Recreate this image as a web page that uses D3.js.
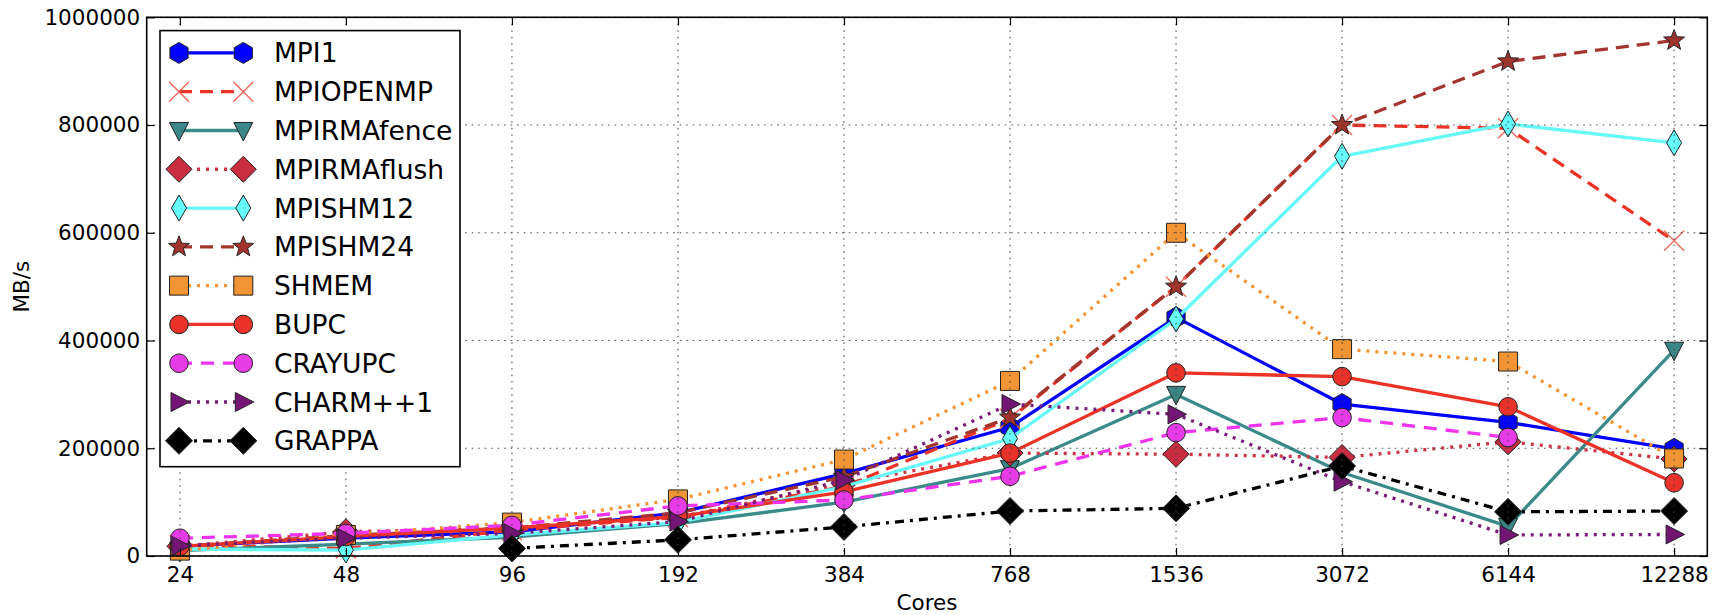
<!DOCTYPE html>
<html>
<head>
<meta charset="utf-8">
<script src="https://cdn.jsdelivr.net/npm/d3@7"></script>
<style>
  html, body { margin: 0; padding: 0; background: #fff; }
  svg { display: block; font-family: "DejaVu Sans", sans-serif; }
</style>
</head>
<body>
<svg id="chart" width="1729" height="615"></svg>
<script>
// Bandwidth (MB/s) per core count for each runtime
const cores = ["24", "48", "96", "192", "384", "768", "1536", "3072", "6144", "12288"];
const yTicks = [0, 200000, 400000, 600000, 800000, 1000000];

const mpi1      = [18000, 33000, 45000, 80000, 153000, 239000, 443000, 282000, 248000, 199000];
const mpiOpenMP = [20000, 14000, 48000, 72000, 129000, 255000, 500000, 800000, 794000, 585000];
const rmaFence  = [10000, 22000, 35000, 60000, 100000, 162000, 300000, 155000, 55000, 382000];
const rmaFlush  = [18000, 45000, 52000, 72000, 135000, 191000, 189000, 183000, 212000, 180000];
const shm12     = [13000, 11000, 39000, 62000, 129000, 218000, 440000, 742000, 802000, 767000];
const shm24     = [18000, 38000, 52000, 80000, 147000, 257000, 500000, 800000, 918000, 957000];
const shmem     = [10000, 39000, 62000, 105000, 179000, 325000, 600000, 384000, 361000, 181000];
const bupc      = [18000, 36000, 52000, 73000, 119000, 191000, 340000, 333000, 277000, 136000];
const crayUPC   = [33000, 42000, 57000, 93000, 104000, 148000, 229000, 257000, 220000, null];
const charm     = [18600, 33000, 42000, 64000, 141000, 282000, 263000, 138000, 39000, 40000];
const grappa    = [null, null, 14000, 30000, 54000, 83500, 88500, 167000, 82000, 83500];

const seriesNames = ["MPI1", "MPIOPENMP", "MPIRMAfence", "MPIRMAflush", "MPISHM12",
  "MPISHM24", "SHMEM", "BUPC", "CRAYUPC", "CHARM++1", "GRAPPA"];
const seriesValues = [mpi1, mpiOpenMP, rmaFence, rmaFlush, shm12, shm24, shmem, bupc, crayUPC, charm, grappa];

// Styling per series: line colour, dash pattern, marker shape and fill
const styles = [
  { color: "#0000ff", dash: null,        marker: "hexagon",  fill: "#0000ff" },
  { color: "#ec3426", dash: "13,8",      marker: "x",        fill: "#f2685c" },
  { color: "#3b8a8a", dash: null,        marker: "triDown",  fill: "#3b8686" },
  { color: "#cc3344", dash: "3,6",       marker: "diamond",  fill: "#c92e40" },
  { color: "#66f7f7", dash: null,        marker: "thinDiamond", fill: "#66ffff" },
  { color: "#a3352f", dash: "13,8",      marker: "star",     fill: "#a2322c" },
  { color: "#f59330", dash: "3,6",       marker: "square",   fill: "#f19434" },
  { color: "#ea3326", dash: null,        marker: "circle",   fill: "#e8322a" },
  { color: "#ee33ee", dash: "13,9",      marker: "circle",   fill: "#e83be8" },
  { color: "#7a1b7a", dash: "3,6",       marker: "triRight", fill: "#741474" },
  { color: "#000000", dash: "9,6,3,6",   marker: "bigDiamond", fill: "#000000" }
];

const svg = d3.select("#chart");
const plotLeft = 146.7, plotRight = 1707.3, plotTop = 17.3, plotBottom = 556;
const tickFont = 21.5, labelFont = 21.5, legendFont = 26.5;

const x = d3.scalePoint().domain(cores).range([plotLeft, plotRight]).padding(0.2);
const y = d3.scaleLinear().domain([0, 1000000]).range([plotBottom, plotTop]);

function markerPath(shape) {
  const p = d3.path();
  if (shape === "hexagon") {
    const r = 10.5;
    for (let i = 0; i < 6; i++) {
      const a = -Math.PI / 2 + i * Math.PI / 3;
      i ? p.lineTo(r * Math.cos(a), r * Math.sin(a)) : p.moveTo(r * Math.cos(a), r * Math.sin(a));
    }
    p.closePath();
  } else if (shape === "x") {
    const h = 10;
    p.moveTo(-h, -h); p.lineTo(h, h); p.moveTo(-h, h); p.lineTo(h, -h);
  } else if (shape === "triDown") {
    p.moveTo(-9.5, -8); p.lineTo(9.5, -8); p.lineTo(0, 10.5); p.closePath();
  } else if (shape === "triRight") {
    p.moveTo(-8, -9.5); p.lineTo(10.5, 0); p.lineTo(-8, 9.5); p.closePath();
  } else if (shape === "diamond") {
    const h = 13;
    p.moveTo(0, -h); p.lineTo(h, 0); p.lineTo(0, h); p.lineTo(-h, 0); p.closePath();
  } else if (shape === "bigDiamond") {
    const h = 13.5;
    p.moveTo(0, -h); p.lineTo(h, 0); p.lineTo(0, h); p.lineTo(-h, 0); p.closePath();
  } else if (shape === "thinDiamond") {
    p.moveTo(0, -13); p.lineTo(7.5, 0); p.lineTo(0, 13); p.lineTo(-7.5, 0); p.closePath();
  } else if (shape === "star") {
    const ro = 11, ri = 4.6;
    for (let i = 0; i < 10; i++) {
      const a = -Math.PI / 2 + i * Math.PI / 5;
      const r = i % 2 ? ri : ro;
      i ? p.lineTo(r * Math.cos(a), r * Math.sin(a)) : p.moveTo(r * Math.cos(a), r * Math.sin(a));
    }
    p.closePath();
  } else if (shape === "square") {
    const h = 9.5;
    p.rect(-h, -h, 2 * h, 2 * h);
  } else if (shape === "circle") {
    p.arc(0, 0, 9.3, 0, 2 * Math.PI);
  }
  return p.toString();
}

function drawMarker(g, st, cx, cy) {
  const m = g.append("path")
    .attr("d", markerPath(st.marker))
    .attr("transform", `translate(${cx},${cy})`);
  if (st.marker === "x") {
    m.attr("fill", "none").attr("stroke", st.fill).attr("stroke-width", 1.4);
  } else {
    m.attr("fill", st.fill).attr("stroke", "#222").attr("stroke-width", 1);
  }
}

// Data series: each line followed by its markers, later series on top
const plot = svg.append("g");
seriesValues.forEach((vals, i) => {
  const st = styles[i];
  const pts = cores.map((c, j) => ({ c, v: vals[j] })).filter(d => d.v !== null);
  const line = d3.line().x(d => x(d.c)).y(d => y(d.v));
  const g = plot.append("g");
  g.append("path")
    .attr("d", line(pts))
    .attr("fill", "none")
    .attr("stroke", st.color)
    .attr("stroke-width", 3.3)
    .attr("stroke-linejoin", "round")
    .attr("stroke-dasharray", st.dash);
  pts.forEach(d => drawMarker(g, st, x(d.c), y(d.v)));
});

// Dotted grid drawn above the data
const grid = svg.append("g").attr("stroke", "#444").attr("stroke-width", 1.1)
  .attr("stroke-dasharray", "1.5,5");
cores.forEach(c => grid.append("line")
  .attr("x1", x(c)).attr("x2", x(c)).attr("y1", plotTop).attr("y2", plotBottom));
yTicks.forEach(t => grid.append("line")
  .attr("x1", plotLeft).attr("x2", plotRight).attr("y1", y(t)).attr("y2", y(t)));

// Axes with inward ticks on all four sides
const tickLen = 8;
const axB = svg.append("g").attr("transform", `translate(0,${plotBottom})`)
  .call(d3.axisBottom(x).tickSizeInner(-tickLen).tickSizeOuter(0).tickPadding(10.5));
const axT = svg.append("g").attr("transform", `translate(0,${plotTop})`)
  .call(d3.axisTop(x).tickSizeInner(-tickLen).tickSizeOuter(0).tickFormat(""));
const axL = svg.append("g").attr("transform", `translate(${plotLeft},0)`)
  .call(d3.axisLeft(y).tickValues(yTicks).tickFormat(d3.format("d"))
    .tickSizeInner(-tickLen).tickSizeOuter(0).tickPadding(6.5));
const axR = svg.append("g").attr("transform", `translate(${plotRight},0)`)
  .call(d3.axisRight(y).tickValues(yTicks).tickSizeInner(-tickLen).tickSizeOuter(0).tickFormat(""));
[axB, axT, axL, axR].forEach(a => {
  a.select(".domain").remove();
  a.selectAll(".tick line").attr("stroke", "#000").attr("stroke-width", 1.2);
  a.selectAll("text").attr("font-family", "DejaVu Sans").attr("font-size", tickFont).attr("fill", "#000");
});
axB.selectAll("text").attr("dy", "0.71em");

svg.append("rect")
  .attr("x", plotLeft).attr("y", plotTop)
  .attr("width", plotRight - plotLeft).attr("height", plotBottom - plotTop)
  .attr("fill", "none").attr("stroke", "#000").attr("stroke-width", 1.6);

// Axis titles
svg.append("text")
  .attr("x", (plotLeft + plotRight) / 2).attr("y", 609.5)
  .attr("text-anchor", "middle").attr("font-size", labelFont).text("Cores");
svg.append("text")
  .attr("transform", `translate(29,${(plotTop + plotBottom) / 2}) rotate(-90)`)
  .attr("text-anchor", "middle").attr("font-size", labelFont).text("MB/s");

// Legend
const lg = svg.append("g");
const lgLeft = 160, lgTop = 30.6, lgRight = 460, lgBottom = 466.7;
lg.append("rect")
  .attr("x", lgLeft).attr("y", lgTop).attr("width", lgRight - lgLeft).attr("height", lgBottom - lgTop)
  .attr("fill", "#fff").attr("stroke", "#000").attr("stroke-width", 1.6);
const rowY = d3.scaleLinear().domain([0, seriesNames.length - 1]).range([52.9, 440.8]);
seriesNames.forEach((name, i) => {
  const st = styles[i];
  const cy = rowY(i);
  const g = lg.append("g");
  g.append("line")
    .attr("x1", 179).attr("x2", 243.3).attr("y1", cy).attr("y2", cy)
    .attr("stroke", st.color).attr("stroke-width", 3.3)
    .attr("stroke-dasharray", st.dash);
  drawMarker(g, st, 179, cy);
  drawMarker(g, st, 243.3, cy);
  g.append("text")
    .attr("x", 274).attr("y", cy).attr("dy", "0.36em")
    .attr("font-size", legendFont).text(name);
});
</script>
</body>
</html>
